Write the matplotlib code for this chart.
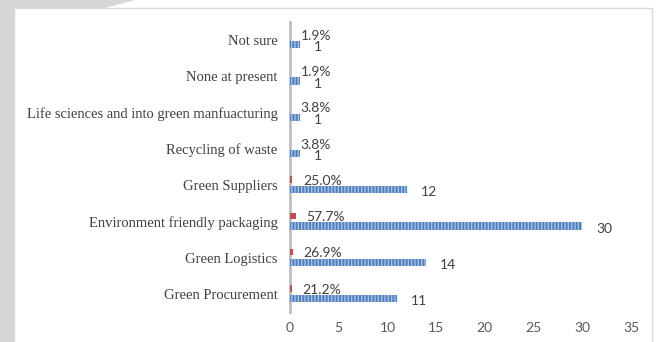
import matplotlib.pyplot as plt
from matplotlib.patches import Rectangle, Polygon
import numpy as np

categories = ["Green Procurement", "Green Logistics", "Environment friendly packaging",
              "Green Suppliers", "Recycling of waste", "Life sciences and into green manfuacturing",
              "None at present", "Not sure"]
counts = [11, 14, 30, 12, 1, 1, 1, 1]
shares = [0.212, 0.269, 0.577, 0.250, 0.038, 0.038, 0.019, 0.019]
share_labels = ["21.2%", "26.9%", "57.7%", "25.0%", "3.8%", "3.8%", "1.9%", "1.9%"]
xticks = [0, 5, 10, 15, 20, 25, 30, 35]

W, H = 659, 342
fig = plt.figure(figsize=(W / 100, H / 100), dpi=100)
fig.patch.set_facecolor("white")

# grey page decoration around the chart box
fig.patches.append(Rectangle((0, 0), 14 / W, 1, transform=fig.transFigure,
                             facecolor="#d6d6d6", edgecolor="none", zorder=-3))
fig.patches.append(Polygon([(0, 1), (135 / W, 1), (105 / W, 1 - 8 / H), (0, 1 - 8 / H)],
                           closed=True, transform=fig.transFigure,
                           facecolor="#d6d6d6", edgecolor="none", zorder=-3))
# white chart box with thin border
fig.patches.append(Rectangle((14 / W, -0.05), (652 - 14) / W, 1.05 - 8 / H,
                             transform=fig.transFigure, facecolor="white",
                             edgecolor="#d9d9d9", linewidth=1.0, zorder=-2))

ax = fig.add_axes([290 / W, 1 - 312 / H, 341 / W, 290 / H])
ax.set_facecolor("none")

y = np.arange(len(categories))
plt.rcParams["hatch.linewidth"] = 1.0
ax.barh(y - 0.13, counts, height=0.2, color="#4f81bd", edgecolor="#a8c0e4",
        hatch="|||||", linewidth=0, zorder=3)
ax.barh(y + 0.15, shares, height=0.18, color="#c0504d", linewidth=0, zorder=3)

for i in range(len(categories)):
    ax.annotate(str(counts[i]), (counts[i], y[i] - 0.2), xytext=(10, 0),
                textcoords="offset points", va="center", ha="left",
                fontsize=10, color="#404040", family="Lato")
    ax.annotate(share_labels[i], (shares[i], y[i] + 0.12), xytext=(7.5, 0),
                textcoords="offset points", va="center", ha="left",
                fontsize=10, color="#404040", family="Lato")

ax.set_xlim(0, 35)
ax.set_ylim(-0.5, len(categories) - 0.5)
ax.set_xticks(xticks)
ax.set_xticklabels([str(t) for t in xticks], fontsize=10, color="#595959", family="Lato")
ax.set_yticks(y)
ax.set_yticklabels(categories, fontsize=10.5, color="#404040", family="Liberation Serif")
ax.tick_params(axis="both", length=0)
ax.tick_params(axis="x", pad=7)
ax.tick_params(axis="y", pad=9)

for s in ["top", "right", "bottom"]:
    ax.spines[s].set_visible(False)
ax.spines["left"].set_color("#bfbfbf")
ax.spines["left"].set_linewidth(2)
ax.spines["left"].set_zorder(2)

fig.savefig("out.png", dpi=100)
